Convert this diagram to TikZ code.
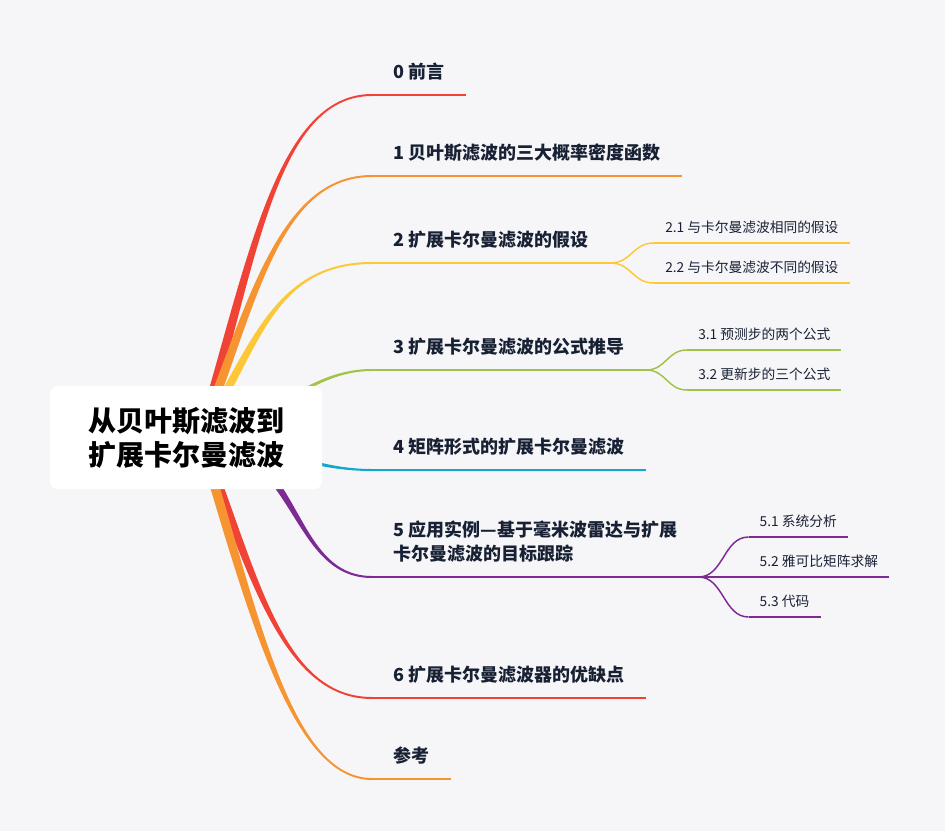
\documentclass[tikz,border=0pt]{standalone}
\usepackage{fontspec}
\setmainfont{Noto Sans CJK SC}
\usetikzlibrary{calc}

\definecolor{bgc}{RGB}{246,246,249}
\definecolor{txtc}{RGB}{24,33,52}
\definecolor{brred}{RGB}{240,67,54}
\definecolor{brorange}{RGB}{247,148,50}
\definecolor{bryellow}{RGB}{252,200,55}
\definecolor{brgreen}{RGB}{160,196,72}
\definecolor{brcyan}{RGB}{18,168,205}
\definecolor{brpurple}{RGB}{125,42,148}

\tikzset{every picture/.style={line width=0.75pt}}
\tikzset{
  mainlbl/.style={anchor=south west, inner xsep=15.75pt, inner ysep=10.4pt, text=txtc, font=\fontsize{13.5}{18}\selectfont\bfseries, align=left},
  sublbl/.style={anchor=south west, inner xsep=8pt, inner ysep=7pt, text=txtc, font=\fontsize{10.3}{13}\selectfont},
  mainline/.style={line width=1.5pt},
  subline/.style={line width=1.1pt},
}

\begin{document}
\begin{tikzpicture}[x=0.75pt,y=0.75pt,yscale=-1,xscale=1]
\useasboundingbox (0,0) rectangle (945,831);
%Shape: Rectangle [background]
\fill[bgc] (0,0) rectangle (945,831);

\coordinate (root) at (200,437);
\coordinate (e0) at (372,95);
\coordinate (e1) at (372,176);
\coordinate (e2) at (372,263);
\coordinate (e3) at (372,370);
\coordinate (e4) at (372,470);
\coordinate (e5) at (372,577);
\coordinate (e6) at (372,698);
\coordinate (e7) at (372,779);

%Curve Lines [branch 0]
\fill[brred] ($(root)+(-5,0)$) .. controls (247,266) and (275,94) .. ($(e0)+(0,-1)$) -- ($(e0)+(0,1)$) .. controls (275,96) and (257,266) .. ($(root)+(5,0)$) -- cycle;
%Curve Lines [branch 1]
\fill[brorange] ($(root)+(-5,0)$) .. controls (247,306) and (278,175) .. ($(e1)+(0,-1)$) -- ($(e1)+(0,1)$) .. controls (278,177) and (257,306) .. ($(root)+(5,0)$) -- cycle;
%Curve Lines [branch 2]
\fill[bryellow] ($(root)+(-5,0)$) .. controls (250,350) and (272,262) .. ($(e2)+(0,-1)$) -- ($(e2)+(0,1)$) .. controls (272,264) and (260,350) .. ($(root)+(5,0)$) -- cycle;
%Curve Lines [branch 3]
\fill[brgreen] ($(root)+(0,-5)$) .. controls (262,432) and (300,369) .. ($(e3)+(0,-1)$) -- ($(e3)+(0,1)$) .. controls (300,371) and (258,442) .. ($(root)+(0,5)$) -- cycle;
%Curve Lines [branch 4]
\fill[brcyan] ($(root)+(0,-5)$) .. controls (258,432) and (300,469) .. ($(e4)+(0,-1)$) -- ($(e4)+(0,1)$) .. controls (300,471) and (262,442) .. ($(root)+(0,5)$) -- cycle;
%Curve Lines [branch 5]
\fill[brpurple] ($(root)+(0,-5)$) .. controls (304,441) and (290,576) .. ($(e5)+(0,-1)$) -- ($(e5)+(0,1)$) .. controls (290,578) and (296,449) .. ($(root)+(0,5)$) -- cycle;
%Curve Lines [branch 6]
\fill[brred] ($(root)+(-5,0)$) .. controls (247,567) and (280,699) .. ($(e6)+(0,1)$) -- ($(e6)+(0,-1)$) .. controls (280,697) and (257,567) .. ($(root)+(5,0)$) -- cycle;
%Curve Lines [branch 7]
\fill[brorange] ($(root)+(-5,0)$) .. controls (247,608) and (290,780) .. ($(e7)+(0,1)$) -- ($(e7)+(0,-1)$) .. controls (290,778) and (257,608) .. ($(root)+(5,0)$) -- cycle;

%Shape: Rounded Rect [central topic]
\draw (186,437.5) node (ctr) [fill=white, rounded corners=6pt, minimum width=204pt, minimum height=77.25pt, text=black, font=\fontsize{21}{25.5}\selectfont\bfseries, align=center] {从贝叶斯滤波到\\扩展卡尔曼滤波};

% Text Node
\draw (e0) node (t0) [mainlbl] {0 前言};
% Text Node
\draw (e1) node (t1) [mainlbl] {1 贝叶斯滤波的三大概率密度函数};
% Text Node
\draw (e2) node (t2) [mainlbl] {2 扩展卡尔曼滤波的假设};
% Text Node
\draw (e3) node (t3) [mainlbl] {3 扩展卡尔曼滤波的公式推导};
% Text Node
\draw (e4) node (t4) [mainlbl] {4 矩阵形式的扩展卡尔曼滤波};
% Text Node
\draw (e5) node (t5) [mainlbl] {5 应用实例—基于毫米波雷达与扩展\\卡尔曼滤波的目标跟踪};
% Text Node
\draw (e6) node (t6) [mainlbl] {6 扩展卡尔曼滤波器的优缺点};
% Text Node
\draw (e7) node (t7) [mainlbl] {参考};

%Straight Lines
\draw[brred, mainline] (e0) -- (t0.south east);
\draw[brorange, mainline] (e1) -- (t1.south east);
\draw[bryellow, mainline] (e2) -- (t2.south east);
\draw[brgreen, mainline] (e3) -- (t3.south east);
\draw[brcyan, mainline] (e4) -- (t4.south east);
\draw[brpurple, mainline] (e5) -- (t5.south east);
\draw[brred, mainline] (e6) -- (t6.south east);
\draw[brorange, mainline] (e7) -- (t7.south east);

% sub branches of 2
\coordinate (s21) at ($(t2.south east)+(44,-20)$);
\coordinate (s22) at ($(t2.south east)+(44,20)$);
\draw[bryellow, subline] (t2.south east) .. controls +(22,0) and +(-22,0) .. (s21);
\draw[bryellow, subline] (t2.south east) .. controls +(22,0) and +(-22,0) .. (s22);
\draw (s21) node (t21) [sublbl] {2.1 与卡尔曼滤波相同的假设};
\draw (s22) node (t22) [sublbl] {2.2 与卡尔曼滤波不同的假设};
\draw[bryellow, subline] (s21) -- (t21.south east);
\draw[bryellow, subline] (s22) -- (t22.south east);

% sub branches of 3
\coordinate (s31) at ($(t3.south east)+(41,-20)$);
\coordinate (s32) at ($(t3.south east)+(41,20)$);
\draw[brgreen, subline] (t3.south east) .. controls +(20,0) and +(-20,0) .. (s31);
\draw[brgreen, subline] (t3.south east) .. controls +(20,0) and +(-20,0) .. (s32);
\draw (s31) node (t31) [sublbl] {3.1 预测步的两个公式};
\draw (s32) node (t32) [sublbl] {3.2 更新步的三个公式};
\draw[brgreen, subline] (s31) -- (t31.south east);
\draw[brgreen, subline] (s32) -- (t32.south east);

% sub branches of 5
\coordinate (s51) at ($(t5.south east)+(50,-40)$);
\coordinate (s52) at ($(t5.south east)+(50,0)$);
\coordinate (s53) at ($(t5.south east)+(50,40)$);
\draw[brpurple, subline] (t5.south east) .. controls +(25,0) and +(-25,0) .. (s51);
\draw[brpurple, subline] (t5.south east) -- (s52);
\draw[brpurple, subline] (t5.south east) .. controls +(25,0) and +(-25,0) .. (s53);
\draw (s51) node (t51) [sublbl] {5.1 系统分析};
\draw (s52) node (t52) [sublbl] {5.2 雅可比矩阵求解};
\draw (s53) node (t53) [sublbl] {5.3 代码};
\draw[brpurple, subline] (s51) -- (t51.south east);
\draw[brpurple, subline] (s52) -- (t52.south east);
\draw[brpurple, subline] (s53) -- (t53.south east);

\end{tikzpicture}
\end{document}
